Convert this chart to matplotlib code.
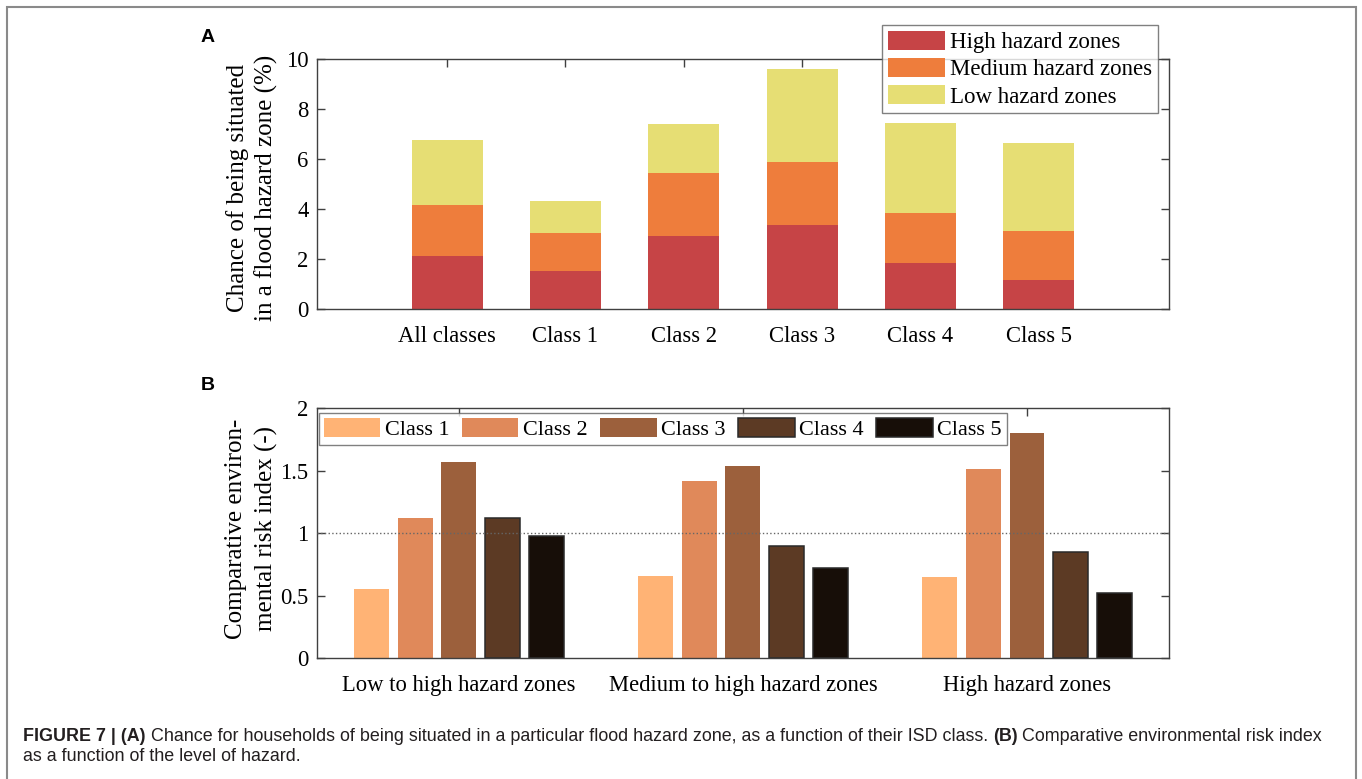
import numpy as np
import matplotlib
matplotlib.use("Agg")
import matplotlib.pyplot as plt
from matplotlib.patches import Patch, Rectangle

plt.rcParams["font.family"] = "Liberation Serif"

###########
## Data  ##
###########
# panel A: chance of being in a flood hazard zone (%), stacked
classes_a = ["All classes", "Class 1", "Class 2", "Class 3", "Class 4", "Class 5"]
high_zone = [2.12, 1.53, 2.92, 3.35, 1.84, 1.16]
medium_zone = [2.04, 1.52, 2.53, 2.52, 1.99, 1.97]
low_zone = [2.61, 1.27, 1.95, 3.74, 3.60, 3.52]
zone_labels = ["High hazard zones", "Medium hazard zones", "Low hazard zones"]
zone_colors = ["#c64446", "#ee7d3c", "#e6de74"]

# panel B: comparative environmental risk index
groups_b = ["Low to high hazard zones", "Medium to high hazard zones", "High hazard zones"]
class_names = ["Class 1", "Class 2", "Class 3", "Class 4", "Class 5"]
risk_class1 = [0.55, 0.66, 0.65]
risk_class2 = [1.12, 1.42, 1.51]
risk_class3 = [1.57, 1.54, 1.80]
risk_class4 = [1.12, 0.90, 0.85]
risk_class5 = [0.98, 0.72, 0.52]
class_colors = ["#ffb375", "#e0895a", "#9c603c", "#5c3a24", "#170e08"]

fig = plt.figure(figsize=(13.62, 7.79), dpi=100)
ax_a = fig.add_axes([0.2327, 0.6033, 0.6256, 0.3209])
ax_b = fig.add_axes([0.2327, 0.1553, 0.6256, 0.3209])

spine_c = "#404040"
for ax in (ax_a, ax_b):
    for s in ax.spines.values():
        s.set_color(spine_c)
        s.set_linewidth(1)
    ax.tick_params(direction="in", length=6, width=1, color=spine_c,
                   top=True, right=True, labelsize=16.3, pad=6)
    ax.tick_params(axis="x", pad=12)

#############
## Panel A ##
#############
xa = np.arange(1, len(classes_a) + 1)
bottom = np.zeros(len(classes_a))
for vals, col in zip([high_zone, medium_zone, low_zone], zone_colors):
    ax_a.bar(xa, vals, width=0.6, bottom=bottom, color=col, edgecolor="none", zorder=2)
    bottom = bottom + np.array(vals)
ax_a.set_xlim(-0.1, 7.1)
ax_a.set_ylim(0, 10)
ax_a.set_xticks(xa)
ax_a.set_xticklabels(classes_a)
ax_a.set_yticks([0, 2, 4, 6, 8, 10])
ax_a.set_ylabel("Chance of being situated\nin a flood hazard zone (%)", fontsize=18, linespacing=1.3)
ax_a.yaxis.set_label_coords(-0.046, 0.486)

handles_a = [Patch(facecolor=c, edgecolor="none") for c in zone_colors]
leg_a = ax_a.legend(handles_a, zone_labels, loc="upper right", bbox_to_anchor=(0.987, 1.136),
                    borderaxespad=0, fontsize=16.5, frameon=True, fancybox=False,
                    handlelength=2.5, handleheight=0.92, handletextpad=0.2,
                    labelspacing=0.2, borderpad=0.25)
leg_a.get_frame().set_edgecolor("#606060")
leg_a.get_frame().set_linewidth(1)
leg_a.set_zorder(5)

#############
## Panel B ##
#############
xb = np.arange(1, len(groups_b) + 1)
n = len(class_names)
step = min(0.8, n / (n + 1.5)) / n   # grouped-bar spacing, MATLAB style
risk_all = [risk_class1, risk_class2, risk_class3, risk_class4, risk_class5]
handles_b = []
for k, (vals, col) in enumerate(zip(risk_all, class_colors)):
    ec = "#2a2a2a" if k >= 3 else "none"
    ax_b.bar(xb + (k - (n - 1) / 2) * step, vals, width=0.8 * step, color=col,
             edgecolor=ec, linewidth=1.1, zorder=2)
    handles_b.append(Patch(facecolor=col, edgecolor=ec, linewidth=1.1))
ax_b.axhline(1, color="#666666", ls=":", lw=1, zorder=3)
ax_b.set_xlim(0.5, 3.5)
ax_b.set_ylim(0, 2)
ax_b.set_xticks(xb)
ax_b.set_xticklabels(groups_b)
ax_b.set_yticks([0, 0.5, 1, 1.5, 2])
ax_b.set_yticklabels(["0", "0.5", "1", "1.5", "2"])
ax_b.set_ylabel("Comparative environ-\nmental risk index (-)", fontsize=18, linespacing=1.45)
ax_b.yaxis.set_label_coords(-0.046, 0.518)

leg_b = ax_b.legend(handles_b, class_names, loc="upper left", bbox_to_anchor=(0.002, 0.981),
                    borderaxespad=0, ncol=5, fontsize=16, frameon=True, fancybox=False,
                    handlelength=2.55, handleheight=0.95, handletextpad=0.2,
                    columnspacing=0.56, borderpad=0.22)
leg_b.get_frame().set_edgecolor("#606060")
leg_b.get_frame().set_linewidth(1)

# panel letters
fig.text(208 / 1362, 1 - 37 / 779, "A", fontsize=14, weight="bold", family="Liberation Sans",
         ha="center", va="center")
fig.text(208 / 1362, 1 - 385 / 779, "B", fontsize=14, weight="bold", family="Liberation Sans",
         ha="center", va="center")

# caption, bold and regular pieces laid out one after another
renderer = fig.canvas.get_renderer()

def caption_line(parts, x, y):
    for s, bold in parts:
        t = fig.text(x, y, s, fontsize=12.9, family="Liberation Sans",
                     weight="bold" if bold else "normal", va="baseline", color="#231f20")
        bb = t.get_window_extent(renderer=renderer)
        x = bb.x1 / fig.bbox.width

caption_line([("FIGURE 7 | (A)", True),
              (" Chance for households of being situated in a particular flood hazard zone, "
               "as a function of their ISD class. ", False),
              ("(B)", True),
              (" Comparative environmental risk index", False)],
             23 / 1362, 1 - 741 / 779)
caption_line([("as a function of the level of hazard.", False)], 23 / 1362, 1 - 761 / 779)

# outer frame around the figure
fig.add_artist(Rectangle((7 / 1362, -0.01), (1356 - 7) / 1362, 1 - 7 / 779 + 0.01,
                         transform=fig.transFigure, fill=False, edgecolor="#8a8a8a", lw=1.5))

fig.savefig("out.png", dpi=100)
